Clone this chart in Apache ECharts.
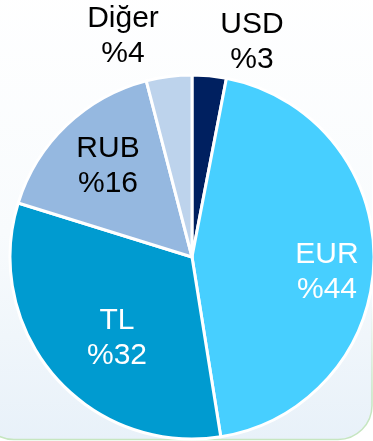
<!DOCTYPE html>
<html>
<head>
<meta charset="utf-8">
<script src="https://cdn.jsdelivr.net/npm/echarts@6/dist/echarts.min.js"></script>
<style>
  html, body { margin: 0; padding: 0; background: #ffffff; }
  #chart { width: 373px; height: 441px; }
</style>
</head>
<body>
<div id="chart"></div>
<script>
// Currency breakdown (percent)
const categories = ['USD', 'EUR', 'TL', 'RUB', 'Diğer'];
const shares = [3, 44, 32, 16, 4];

const sliceColors = ['#002060', '#47CFFF', '#009BD0', '#95B8E0', '#BDD3EC'];
const labelColors = ['#000000', '#ffffff', '#ffffff', '#000000', '#000000'];
// Label anchor points (px) for each slice
const labelSpots = [[252, 42], [327, 272], [117, 338], [108, 166], [123, 36]];

const chart = echarts.init(document.getElementById('chart'), null, { renderer: 'canvas' });

chart.setOption({
  backgroundColor: 'transparent',
  animation: false,
  graphic: [{
    type: 'rect',
    z: -10,
    silent: true,
    shape: { x: -20, y: -20, width: 392, height: 459.5, r: 34 },
    style: {
      fill: new echarts.graphic.LinearGradient(0, 0, 0, 1, [
        { offset: 0, color: '#ffffff' },
        { offset: 0.55, color: '#f8fbfd' },
        { offset: 1, color: '#e8f1f9' }
      ]),
      stroke: new echarts.graphic.LinearGradient(0, 0, 0, 1, [
        { offset: 0, color: 'rgba(198,230,192,0)' },
        { offset: 0.7, color: 'rgba(198,230,192,0)' },
        { offset: 0.9, color: 'rgba(198,230,192,1)' },
        { offset: 1, color: 'rgba(198,230,192,1)' }
      ]),
      lineWidth: 1.5
    }
  }],
  series: [{
    type: 'pie',
    center: [192, 257],
    radius: [0, 182],
    startAngle: 90,
    clockwise: true,
    avoidLabelOverlap: false,
    itemStyle: { borderColor: '#ffffff', borderWidth: 3 },
    label: {
      show: true,
      position: 'inside',
      formatter: p => p.name + '\n%' + p.value,
      fontFamily: 'Liberation Sans, Arial, sans-serif',
      fontSize: 30,
      lineHeight: 35
    },
    labelLine: { show: false },
    labelLayout: p => ({
      x: labelSpots[p.dataIndex][0],
      y: labelSpots[p.dataIndex][1],
      align: 'center',
      verticalAlign: 'middle'
    }),
    data: categories.map((name, i) => ({
      name: name,
      value: shares[i],
      itemStyle: { color: sliceColors[i] },
      label: { color: labelColors[i] }
    }))
  }]
});
</script>
</body>
</html>
